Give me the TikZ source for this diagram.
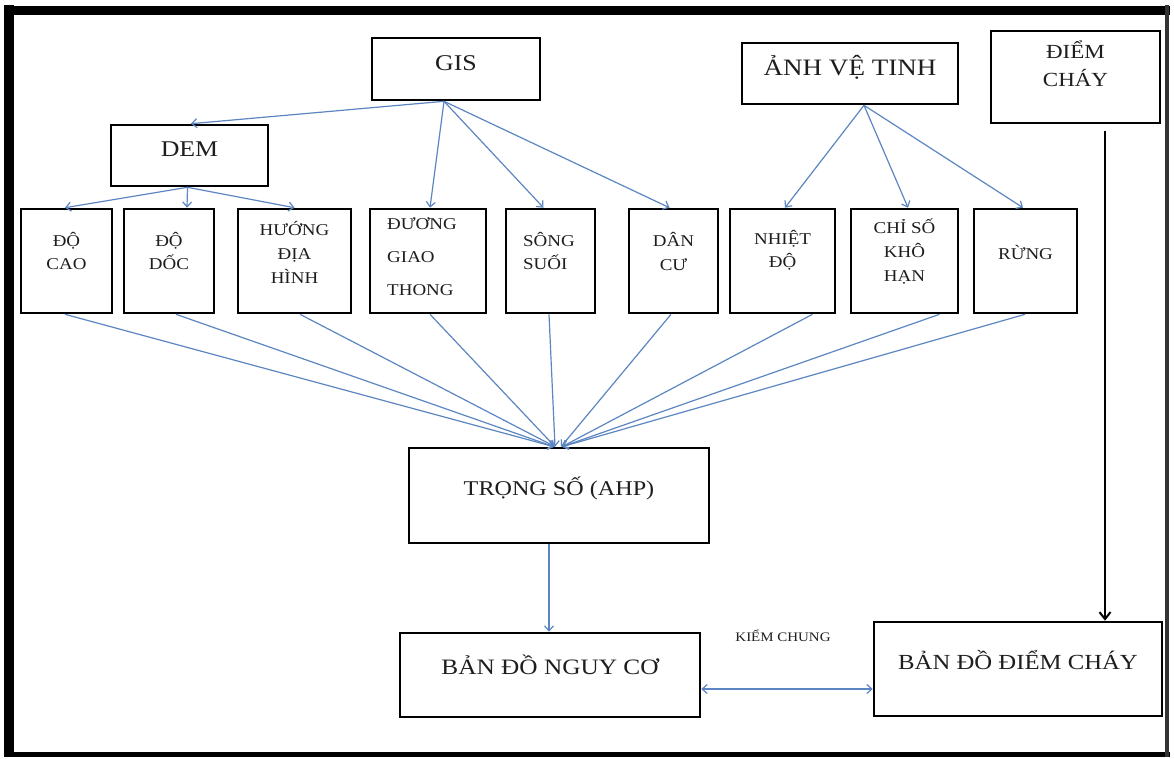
\documentclass[tikz,border=0pt]{standalone}
\usepackage{fontspec}
\setmainfont{Liberation Serif}[FakeStretch=1.15]
\usetikzlibrary{arrows.meta,calc}
\definecolor{arrowblue}{RGB}{92,134,194}
\definecolor{txt}{RGB}{30,30,30}
\newcommand\fsz[2]{\fontsize{#1}{#2}\selectfont}
\begin{document}
\begin{tikzpicture}[x=1pt,y=-1pt,
  box/.style={draw=black, line width=2.6pt, rectangle, inner sep=0pt, fill=white},
  lbl/.style={text=txt, align=center, inner sep=0pt},
  barrow/.style={draw=arrowblue, line width=1.2pt, -{Straight Barb[length=5pt,width=9pt]}},
  karrow/.style={draw=black, line width=2pt, -{Straight Barb[length=7pt,width=11pt]}},
  frame/.style={draw=black}]
\useasboundingbox (0,0) rectangle (1174,758);
\fill[white] (0,0) rectangle (1174,758);
% outer frame
\draw[frame, line width=9pt] (4,10) -- (1170,10);
\draw[frame, line width=10pt] (9,5) -- (9,757);
\draw[frame, line width=5pt] (4,754.5) -- (1170,754.5);
\draw[draw=black!80, line width=4pt] (1167,5) -- (1167,757);

% boxes
\node[box, minimum width=168pt, minimum height=62pt] (gis) at (456,69) {};
\node[box, minimum width=157pt, minimum height=61pt] (dem) at (189.5,155.5) {};
\node[box, minimum width=216pt, minimum height=61pt] (anh) at (850,73.5) {};
\node[box, minimum width=169pt, minimum height=92pt] (dc) at (1075.5,77) {};

\node[box, minimum width=91pt, minimum height=104pt] (docao) at (66.5,261) {};
\node[box, minimum width=90pt, minimum height=104pt] (dodoc) at (169,261) {};
\node[box, minimum width=113pt, minimum height=104pt] (huong) at (294.5,261) {};
\node[box, minimum width=116pt, minimum height=104pt] (duong) at (428,261) {};
\node[box, minimum width=89pt, minimum height=104pt] (song) at (550.5,261) {};
\node[box, minimum width=89pt, minimum height=104pt] (dancu) at (673.5,261) {};
\node[box, minimum width=105pt, minimum height=104pt] (nhiet) at (782.5,261) {};
\node[box, minimum width=107pt, minimum height=104pt] (chiso) at (904.5,261) {};
\node[box, minimum width=103pt, minimum height=104pt] (rung) at (1025.5,261) {};

\node[box, minimum width=300pt, minimum height=95pt] (ahp) at (559,495.5) {};
\node[box, minimum width=300pt, minimum height=84pt] (nguyco) at (550,675) {};
\node[box, minimum width=288pt, minimum height=94pt] (bdc) at (1018,669) {};

% labels
\node[lbl, font=\fsz{22.5}{26}] (t-gis) at (456,63) {GIS};
\node[lbl, font=\fsz{22.5}{26}] (t-dem) at (189.5,149) {DEM};
\node[lbl, font=\fsz{23.5}{26}] (t-anh) at (850,67) {ẢNH VỆ TINH};
\node[lbl, font=\fsz{20}{28}] (t-dc) at (1075.5,64) {ĐIỂM\\CHÁY};
\node[lbl, font=\fsz{16.5}{23}] (t-docao) at (66.5,251) {ĐỘ\\CAO};
\node[lbl, font=\fsz{16.5}{23}] (t-dodoc) at (169,251) {ĐỘ\\DỐC};
\node[lbl, font=\fsz{16.5}{24}] (t-huong) at (294.5,252) {HƯỚNG\\ĐỊA\\HÌNH};
\node[lbl, font=\fsz{16.5}{33}, align=left] (t-duong) at (422,257) {ĐƯƠNG\\GIAO\\THONG};
\node[lbl, font=\fsz{16.5}{23}, align=left] (t-song) at (549,251) {SÔNG\\SUỐI};
\node[lbl, font=\fsz{16.5}{24}] (t-dancu) at (673.5,251) {DÂN\\CƯ};
\node[lbl, font=\fsz{16.5}{23}] (t-nhiet) at (782.5,250) {NHIỆT\\ĐỘ};
\node[lbl, font=\fsz{16.5}{24}] (t-chiso) at (904.5,252) {CHỈ SỐ\\KHÔ\\HẠN};
\node[lbl, font=\fsz{16.5}{23}] (t-rung) at (1025.5,252) {RỪNG};
\node[lbl, font=\fsz{21}{24}] (t-ahp) at (559,488) {TRỌNG SỐ (AHP)};
\node[lbl, font=\fsz{22}{26}] (t-nguyco) at (550,665) {BẢN ĐỒ NGUY CƠ};
\node[lbl, font=\fsz{21.5}{26}] (t-bdc) at (1018,660) {BẢN ĐỒ ĐIỂM CHÁY};
\node[lbl, font=\fsz{13}{16}] (t-kiem) at (783,636) {KIỂM CHUNG};

% GIS arrows
\draw[barrow] ([xshift=-12pt]gis.south) -- ([xshift=1.5pt]dem.north);
\draw[barrow] ([xshift=-12pt]gis.south) -- ([xshift=2pt]duong.north);
\draw[barrow] ([xshift=-12pt]gis.south) -- ([xshift=-7pt]song.north);
\draw[barrow] ([xshift=-12pt]gis.south) -- ([xshift=-4pt]dancu.north);
% DEM arrows
\draw[barrow] ([xshift=-2pt]dem.south) -- ([xshift=-1.5pt]docao.north);
\draw[barrow] ([xshift=-2pt]dem.south) -- ([xshift=18pt]dodoc.north);
\draw[barrow] ([xshift=-2pt]dem.south) -- (huong.north);
% satellite arrows
\draw[barrow] ([xshift=14pt]anh.south) -- ([xshift=2.5pt]nhiet.north);
\draw[barrow] ([xshift=14pt]anh.south) -- ([xshift=3.5pt]chiso.north);
\draw[barrow] ([xshift=14pt]anh.south) -- ([xshift=-2.5pt]rung.north);

% fan into AHP
\draw[barrow] ([xshift=-1.5pt]docao.south) -- ([xshift=-5pt]ahp.north);
\draw[barrow] ([xshift=7pt]dodoc.south) -- ([xshift=-5pt]ahp.north);
\draw[barrow] ([xshift=5.5pt]huong.south) -- ([xshift=-4pt]ahp.north);
\draw[barrow] ([xshift=2pt]duong.south) -- ([xshift=-4pt]ahp.north);
\draw[barrow] ([xshift=-1.5pt]song.south) -- ([xshift=-4pt]ahp.north);
\draw[barrow] ([xshift=-2.5pt]dancu.south) -- ([xshift=2pt]ahp.north);
\draw[barrow] ([xshift=30pt]nhiet.south) -- ([xshift=3pt]ahp.north);
\draw[barrow] ([xshift=35pt]chiso.south) -- ([xshift=3pt]ahp.north);
\draw[barrow] ([xshift=-0.5pt]rung.south) -- ([xshift=3pt]ahp.north);

% AHP to risk map
\draw[barrow] ([xshift=-10pt]ahp.south) -- ([xshift=-1pt]nguyco.north);
% validation double arrow
\draw[draw=arrowblue, line width=1.2pt, {Straight Barb[length=5pt,width=9pt]}-{Straight Barb[length=5pt,width=9pt]}]
  ([yshift=-14pt]nguyco.east) -- ([yshift=-14pt]nguyco.east -| bdc.west);
% fire points arrow
\draw[karrow] ([xshift=29.5pt,yshift=-7pt]dc.south) -- ([xshift=29.5pt]dc.south |- bdc.north);
\end{tikzpicture}
\end{document}
